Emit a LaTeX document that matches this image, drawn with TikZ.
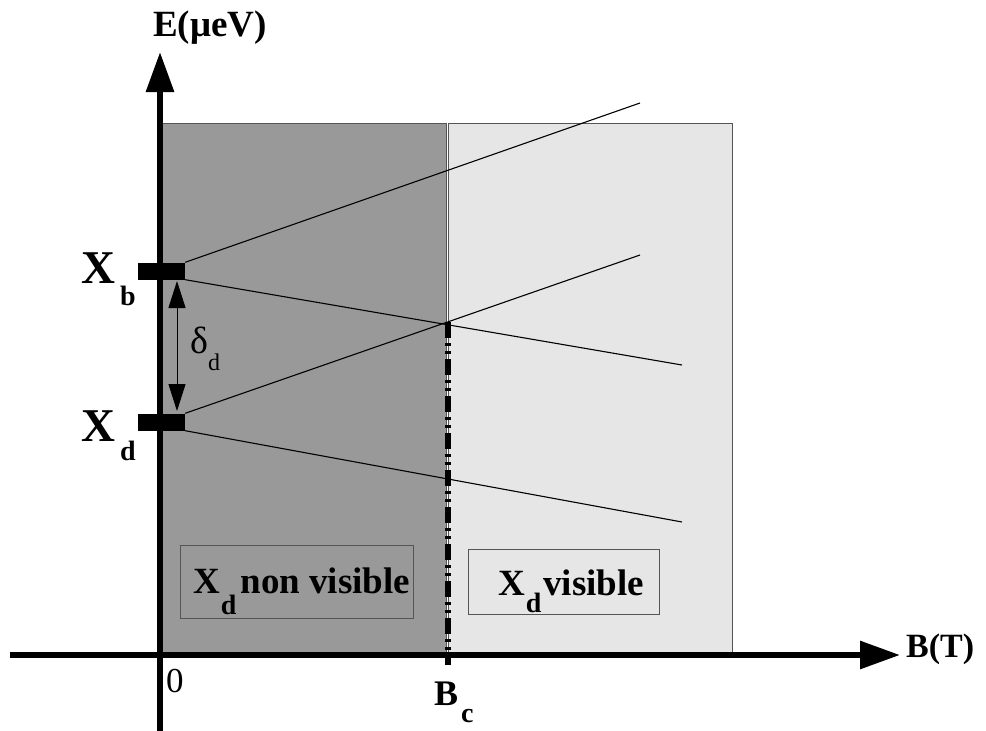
\documentclass[tikz,border=0pt]{standalone}
\usepackage{fontspec}
\setmainfont{Liberation Serif}
\usetikzlibrary{arrows.meta}
\definecolor{darkfill}{HTML}{999999}
\definecolor{lightfill}{HTML}{E6E6E6}
\definecolor{edgegray}{HTML}{555555}
\newcommand{\lowsub}[3]{\hspace{#1}\raisebox{-#2}{\fontsize{28pt}{28pt}\selectfont #3}}
\begin{document}
\begin{tikzpicture}[x=1pt,y=-1pt,
  axis/.style={line width=6pt,-{Triangle[length=40pt,width=27pt]}},
  level/.style={line width=1.1pt},
  bar/.style={fill=black,draw=none,inner sep=0pt,minimum width=47pt,minimum height=17pt},
  lbl/.style={inner sep=0pt,anchor=base west},
  region/.style={draw=edgegray,line width=1pt},
  tag/.style={draw=edgegray,line width=1pt}]
\useasboundingbox (0,0) rectangle (986,731);
\fill[white] (0,0) rectangle (986,731);
% regions
\draw[region,fill=darkfill] (160,123) rectangle (446,655);
\draw[region,fill=lightfill] (448,123) rectangle (732,655);
% label boxes
\draw[tag] (180,545) rectangle (413,618);
\draw[tag,fill=lightfill] (468,549) rectangle (659,614);
% critical field line
\coordinate (cross) at (448,322);
\coordinate (bcfoot) at (448,665);
\draw[line width=6pt,dash pattern=on 16pt off 5pt on 3pt off 5pt on 3pt off 5pt] (cross) -- (bcfoot);
% axes
\coordinate (ybot) at (160,731);
\coordinate (ytop) at (160,52);
\coordinate (xleft) at (10,655);
\coordinate (xright) at (900,655);
\draw[axis] (ybot) -- (ytop);
\draw[axis] (xleft) -- (xright);
% level bars
\node[bar] (xb) at (161.5,271) {};
\node[bar] (xd) at (161.5,422) {};
% level lines
\coordinate (e1) at (640,103);
\coordinate (e2) at (682,365);
\coordinate (e3) at (640,255);
\coordinate (e4) at (682,522);
\draw[level] (xb.north east) -- (e1);
\draw[level] (xb.south east) -- (e2);
\draw[level] (xd.north east) -- (e3);
\draw[level] (xd.south east) -- (e4);
% delta arrow
\coordinate (dtop) at (177,281);
\coordinate (dbot) at (177,411);
\draw[line width=1pt,{Triangle[length=27pt,width=17pt]}-{Triangle[length=27pt,width=17pt]}] (dtop) -- (dbot);
% labels
\node[lbl,font=\bfseries\fontsize{37pt}{37pt}\selectfont] (elab) at (153,36) {E(μeV)};
\node[lbl,font=\bfseries\fontsize{34pt}{34pt}\selectfont] (blab) at (906,657) {B(T)};
\node[lbl,font=\bfseries\fontsize{47pt}{47pt}\selectfont] (xblab) at (81,283) {X\lowsub{5pt}{22pt}{b}};
\node[lbl,font=\bfseries\fontsize{47pt}{47pt}\selectfont] (xdlab) at (81,441) {X\lowsub{5pt}{19pt}{d}};
\node[lbl,font=\fontsize{38pt}{38pt}\selectfont] (dlab) at (190,353) {δ\raisebox{-17pt}{\fontsize{24pt}{24pt}\selectfont d}};
\node[lbl,font=\fontsize{35pt}{35pt}\selectfont] (zero) at (166,692) {0};
\node[lbl,font=\bfseries\fontsize{36pt}{36pt}\selectfont] (bclab) at (434,705) {B\lowsub{3pt}{17pt}{c}};
\node[lbl,font=\bfseries\fontsize{37pt}{37pt}\selectfont] (nonvis) at (193,593) {X\lowsub{1pt}{21pt}{d}\hspace{4pt}non visible};
\node[lbl,font=\bfseries\fontsize{37pt}{37pt}\selectfont] (vis) at (498,595) {X\lowsub{1pt}{17pt}{d}\hspace{2pt}visible};
\end{tikzpicture}
\end{document}
